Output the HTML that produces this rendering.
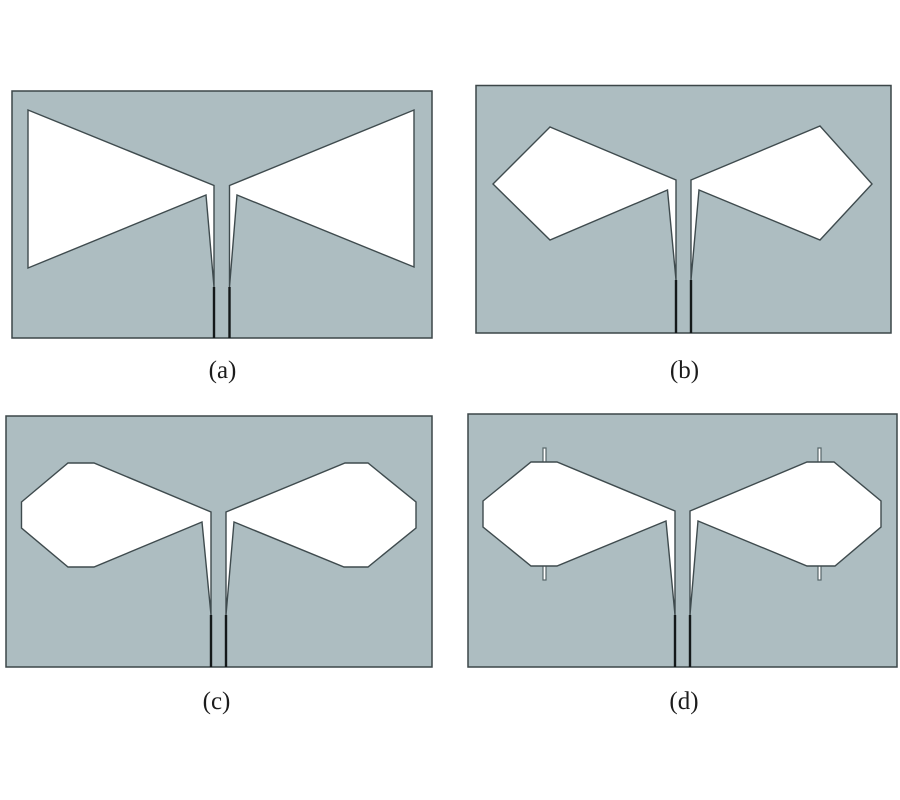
<!DOCTYPE html>
<html>
<head>
<meta charset="utf-8">
<style>
html,body{margin:0;padding:0;background:#fff;width:900px;height:800px;overflow:hidden}
svg{display:block}
.b{fill:#adbdc1;stroke:#3c4648;stroke-width:1.5}
.p{fill:#fff;stroke:#3f4b4e;stroke-width:1.4;stroke-linejoin:miter}
.s{stroke:#14191a;stroke-width:2.4;fill:none}
.st{fill:#fff;stroke:#566568;stroke-width:1.2}
text{font-family:"Liberation Serif",serif;font-size:25px;fill:#1c1c1c;text-anchor:middle}
</style>
</head>
<body>
<svg width="900" height="800" viewBox="0 0 900 800" xmlns="http://www.w3.org/2000/svg">
<!-- a -->
<rect class="b" x="12" y="91" width="420" height="247"/>
<polygon class="p" points="28,110 214,185.500 214,287 206,195 28,268"/>
<polygon class="p" points="229.500,185.500 414,110 414,267 237,195 229.500,287"/>
<path class="s" d="M214 287V338M229.500 287V338"/>
<text x="222.500" y="378">(a)</text>
<!-- b -->
<rect class="b" x="476" y="85.500" width="415" height="247.500"/>
<polygon class="p" points="493,184 550,127 676,180 676,280 667.500,190 550,240"/>
<polygon class="p" points="691,180 820,126 872,184 820,240 699,190 691,280"/>
<path class="s" d="M676 280V333M691 280V333"/>
<text x="684.500" y="378">(b)</text>
<!-- c -->
<rect class="b" x="6" y="416" width="426" height="251"/>
<polygon class="p" points="21.500,502 68,463 94,463 211,512 211,615 202,522 94,567 68,567 21.500,528"/>
<polygon class="p" points="226,512 345,463 368,463 416,502 416,528 368,567 344,567 234,522 226,615"/>
<path class="s" d="M211 615V667M226 615V667"/>
<text x="216.500" y="709">(c)</text>
<!-- d -->
<rect class="b" x="468" y="414" width="429" height="253"/>
<rect class="st" x="543" y="448" width="3" height="15"/>
<rect class="st" x="543" y="565" width="3" height="15"/>
<rect class="st" x="818" y="448" width="3" height="15"/>
<rect class="st" x="818" y="565" width="3" height="15"/>
<polygon class="p" points="483,501 531,462 557,462 675,511 675,615 666,521 557,566 531,566 483,527"/>
<polygon class="p" points="690,511 807,462 834,462 881,501 881,527 835,566 807,566 698,521 690,615"/>
<path class="s" d="M675 615V667M690 615V667"/>
<text x="684" y="709">(d)</text>
</svg>
</body>
</html>
